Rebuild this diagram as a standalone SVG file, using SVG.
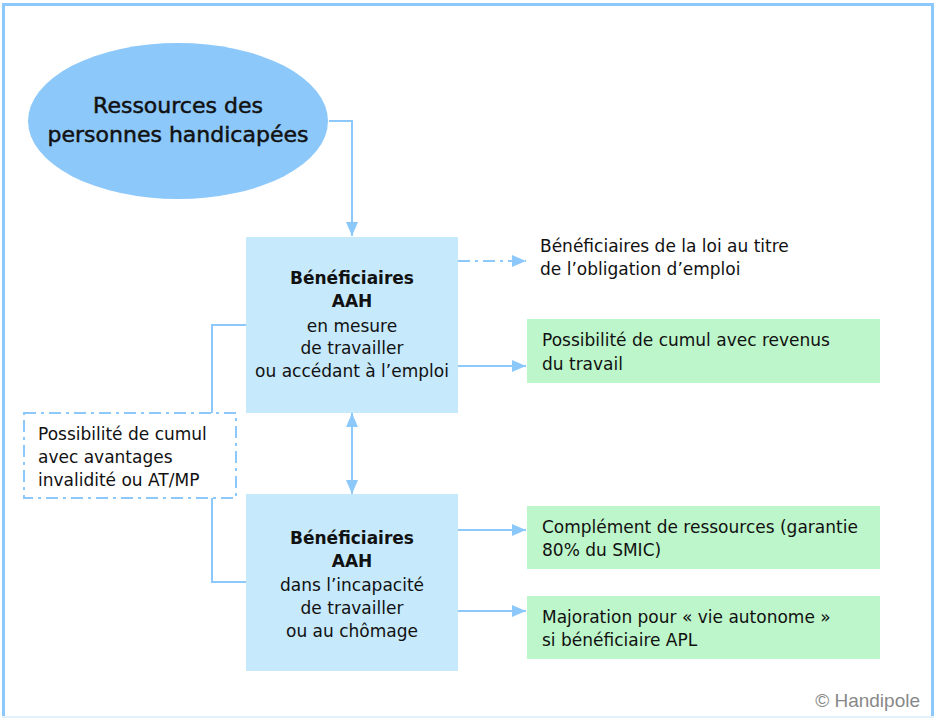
<svg xmlns="http://www.w3.org/2000/svg" width="936" height="720" viewBox="0 0 936 720">
<style>
  .t { font-family: "DejaVu Sans", Verdana, sans-serif; font-size: 17px; fill: #111; }
  .b { font-weight: bold; }
  .c { text-anchor: middle; }
  .ln { stroke: #8cc8fa; stroke-width: 2; fill: none; }
  .dd { stroke: #8cc8fa; stroke-width: 2; fill: none; stroke-dasharray: 12 5 3 5; }
  .blue { fill: #c6e9fc; }
  .green { fill: #bdf6ca; }
</style>
<defs>
  <marker id="arr" viewBox="0 0 14 12" refX="14" refY="6" markerWidth="14" markerHeight="12" orient="auto-start-reverse" markerUnits="userSpaceOnUse">
    <path d="M0,0 L14,6 L0,12 z" fill="#8cc8fa"/>
  </marker>
</defs>
<rect x="0" y="0" width="936" height="720" fill="#ffffff"/>
<polyline points="3.5,717 3.5,4.5 932.5,4.5 932.5,717" fill="none" stroke="#8cc8fa" stroke-width="3"/>
<line x1="2" y1="717" x2="934" y2="717" stroke="#e2f1fd" stroke-width="2"/>

<g id="connectors">
  <polyline class="ln" points="329,121 352,121 352,236" marker-end="url(#arr)"/>
  <line class="dd" x1="458" y1="261" x2="526" y2="261" marker-end="url(#arr)"/>
  <line class="ln" x1="458" y1="366" x2="526" y2="366" marker-end="url(#arr)"/>
  <line class="ln" x1="352" y1="413" x2="352" y2="494" marker-start="url(#arr)" marker-end="url(#arr)"/>
  <line class="ln" x1="458" y1="530" x2="526" y2="530" marker-end="url(#arr)"/>
  <line class="ln" x1="458" y1="611" x2="526" y2="611" marker-end="url(#arr)"/>
  <polyline class="ln" points="246,325 212,325 212,413"/>
  <polyline class="ln" points="212,498 212,582 246,582"/>
</g>

<g id="ressources">
  <ellipse cx="178" cy="121" rx="150" ry="78" fill="#8cc8fa"/>
  <text class="t c" x="178" y="113" style="font-size:22px;stroke:#111;stroke-width:0.5">Ressources des</text>
  <text class="t c" x="178" y="142" style="font-size:22px;stroke:#111;stroke-width:0.5">personnes handicapées</text>
</g>

<g id="aah-travail">
  <rect class="blue" x="246" y="237" width="212" height="176"/>
  <text class="t c b" x="352" y="284">Bénéficiaires</text>
  <text class="t c b" x="352" y="307">AAH</text>
  <text class="t c" x="352" y="332">en mesure</text>
  <text class="t c" x="352" y="354">de travailler</text>
  <text class="t c" x="352" y="377">ou accédant à l’emploi</text>
</g>

<g id="obligation">
  <text class="t" x="540" y="252">Bénéficiaires de la loi au titre</text>
  <text class="t" x="540" y="275">de l’obligation d’emploi</text>
</g>

<g id="cumul-revenus">
  <rect class="green" x="527" y="319" width="353" height="64"/>
  <text class="t" x="542" y="346">Possibilité de cumul avec revenus</text>
  <text class="t" x="542" y="370">du travail</text>
</g>

<g id="cumul-invalidite">
  <rect class="dd" x="24" y="413" width="212" height="85"/>
  <text class="t" x="38" y="440">Possibilité de cumul</text>
  <text class="t" x="38" y="463">avec avantages</text>
  <text class="t" x="38" y="486">invalidité ou AT/MP</text>
</g>

<g id="aah-incapacite">
  <rect class="blue" x="246" y="494" width="212" height="177"/>
  <text class="t c b" x="352" y="544">Bénéficiaires</text>
  <text class="t c b" x="352" y="567">AAH</text>
  <text class="t c" x="352" y="591">dans l’incapacité</text>
  <text class="t c" x="352" y="614">de travailler</text>
  <text class="t c" x="352" y="637">ou au chômage</text>
</g>

<g id="complement">
  <rect class="green" x="527" y="506" width="353" height="63"/>
  <text class="t" x="542" y="533">Complément de ressources (garantie</text>
  <text class="t" x="542" y="556">80% du SMIC)</text>
</g>

<g id="majoration">
  <rect class="green" x="527" y="596" width="353" height="63"/>
  <text class="t" x="542" y="623">Majoration pour « vie autonome »</text>
  <text class="t" x="542" y="646">si bénéficiaire APL</text>
</g>

<text x="920" y="707" text-anchor="end" style="font-family:'Liberation Sans',Arial,sans-serif;fill:#888;font-size:19px">© Handipole</text>
</svg>
